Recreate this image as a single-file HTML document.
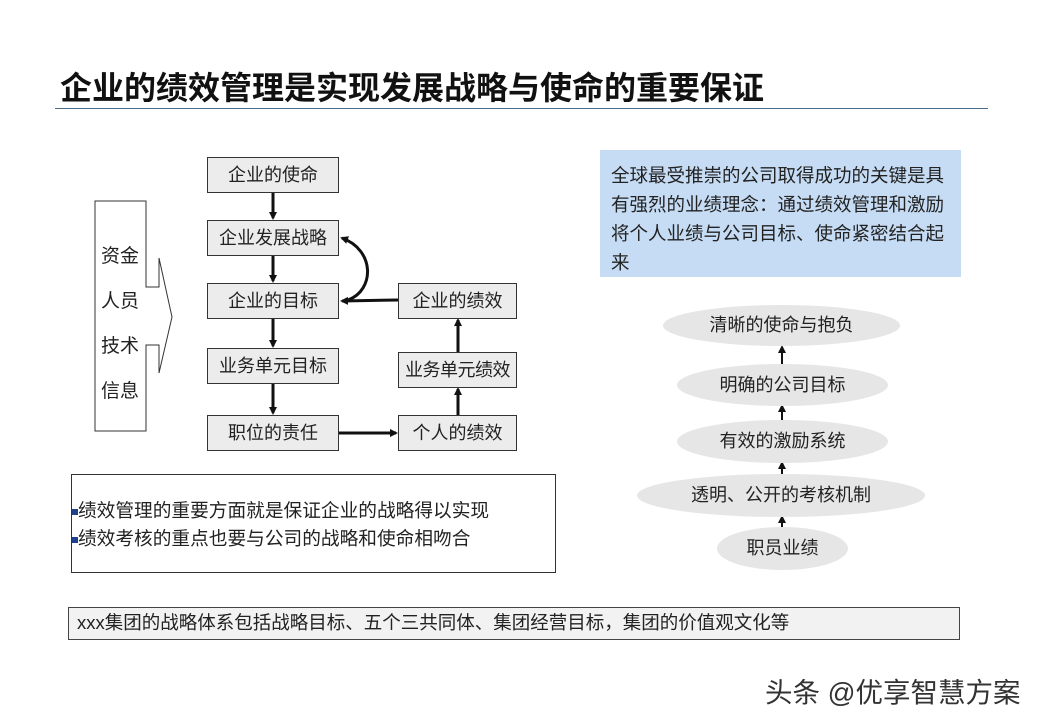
<!DOCTYPE html>
<html><head><meta charset="utf-8"><style>
body{margin:0;width:1040px;height:720px;background:#fff;font-family:"Liberation Sans","Noto Sans CJK SC",sans-serif;position:relative;overflow:hidden}
.a{position:absolute}
.b{position:absolute;background:#ececec;border:1px solid #333;box-sizing:border-box;text-align:center;font-size:18px;color:#222}
.e{position:absolute;background:#e6e6e6;border-radius:50%;text-align:center;font-size:18px;color:#222}
</style></head><body>
<div class="a" style="left:60px;top:63px;font-size:32px;font-weight:bold;color:#111;white-space:nowrap">企业的绩效管理是实现发展战略与使命的重要保证</div>
<div class="a" style="left:55px;top:108px;width:933px;height:1px;background:#4a6a8a"></div>

<svg class="a" style="left:0;top:0" width="1040" height="720">
<defs><marker id="m" markerWidth="8" markerHeight="8" refX="6" refY="4" orient="auto" markerUnits="userSpaceOnUse"><path d="M0,0 L8,4 L0,8z" fill="#111"/></marker>
<marker id="s" markerWidth="8" markerHeight="8" refX="6" refY="4" orient="auto" markerUnits="userSpaceOnUse"><path d="M0,0 L8,4 L0,8z" fill="#111"/></marker></defs>
<polygon points="95,201 146,201 146,287 159,287 159,258 172,317 159,373 159,345 146,345 146,431 95,431" fill="#fff" stroke="#333" stroke-width="1"/>
<g stroke="#111" stroke-width="3" fill="none" marker-end="url(#m)">
<line x1="273" y1="192" x2="273" y2="218"/>
<line x1="273" y1="256" x2="273" y2="281"/>
<line x1="273" y1="319" x2="273" y2="346"/>
<line x1="273" y1="384" x2="273" y2="413"/>
<line x1="339" y1="433" x2="396" y2="433"/>
<line x1="458" y1="415" x2="458" y2="389"/>
<line x1="458" y1="352" x2="458" y2="320"/>
<line x1="398" y1="300" x2="342" y2="301"/>
<path d="M348,300 C375,290 375,250 342,238"/>
</g>
<g stroke="#111" stroke-width="2" marker-end="url(#s)">
<line x1="782" y1="364" x2="782" y2="347"/>
<line x1="782" y1="420" x2="782" y2="406"/>
<line x1="782" y1="474" x2="782" y2="463"/>
<line x1="782" y1="527" x2="782" y2="517"/>
</g>
</svg>
<div class="a" style="left:101px;top:234px;font-size:19px;line-height:45px;color:#222">资金<br>人员<br>技术<br>信息</div>

<div class="b" style="left:207px;top:157px;width:132px;height:36px;line-height:34px">企业的使命</div>
<div class="b" style="left:207px;top:220px;width:132px;height:36px;line-height:34px">企业发展战略</div>
<div class="b" style="left:207px;top:283px;width:132px;height:36px;line-height:34px">企业的目标</div>
<div class="b" style="left:207px;top:348px;width:132px;height:36px;line-height:34px">业务单元目标</div>
<div class="b" style="left:207px;top:415px;width:132px;height:36px;line-height:34px">职位的责任</div>
<div class="b" style="left:398px;top:283px;width:119px;height:36px;line-height:34px">企业的绩效</div>
<div class="b" style="left:398px;top:352px;width:119px;height:36px;line-height:34px;font-size:18px;white-space:nowrap;letter-spacing:-0.5px">业务单元绩效</div>
<div class="b" style="left:398px;top:415px;width:119px;height:36px;line-height:34px">个人的绩效</div>

<div class="a" style="left:71px;top:474px;width:485px;height:99px;border:1px solid #333;box-sizing:border-box;padding:22px 0 0 0;font-size:18.7px;line-height:28px;color:#222;white-space:nowrap">
<div><span style="display:inline-block;width:6px;height:6px;background:#1f3f8f;vertical-align:middle"></span>绩效管理的重要方面就是保证企业的战略得以实现</div>
<div><span style="display:inline-block;width:6px;height:6px;background:#1f3f8f;vertical-align:middle"></span>绩效考核的重点也要与公司的战略和使命相吻合</div>
</div>

<div class="a" style="left:68px;top:607px;width:892px;height:33px;background:#f2f2f2;border:1px solid #444;box-sizing:border-box;padding-left:8px;font-size:18.5px;line-height:30px;color:#222;white-space:nowrap">xxx集团的战略体系包括战略目标、五个三共同体、集团经营目标，集团的价值观文化等</div>

<div class="a" style="left:600px;top:150px;width:361px;height:127px;background:#c6dcf4;box-sizing:border-box;padding:11px 6px 0 11px;font-size:18.5px;line-height:29px;color:#222">全球最受推崇的公司取得成功的关键是具有强烈的业绩理念：通过绩效管理和激励将个人业绩与公司目标、使命紧密结合起来</div>

<div class="e" style="left:663px;top:305px;width:237px;height:41px;line-height:41px">清晰的使命与抱负</div>
<div class="e" style="left:677px;top:364px;width:211px;height:42px;line-height:42px">明确的公司目标</div>
<div class="e" style="left:677px;top:420px;width:211px;height:43px;line-height:43px">有效的激励系统</div>
<div class="e" style="left:637px;top:474px;width:288px;height:43px;line-height:43px">透明、公开的考核机制</div>
<div class="e" style="left:717px;top:527px;width:131px;height:43px;line-height:43px">职员业绩</div>

<div class="a" style="left:765px;top:670px;font-size:27.5px;color:#333;white-space:nowrap">头条 @优享智慧方案</div>
</body></html>
